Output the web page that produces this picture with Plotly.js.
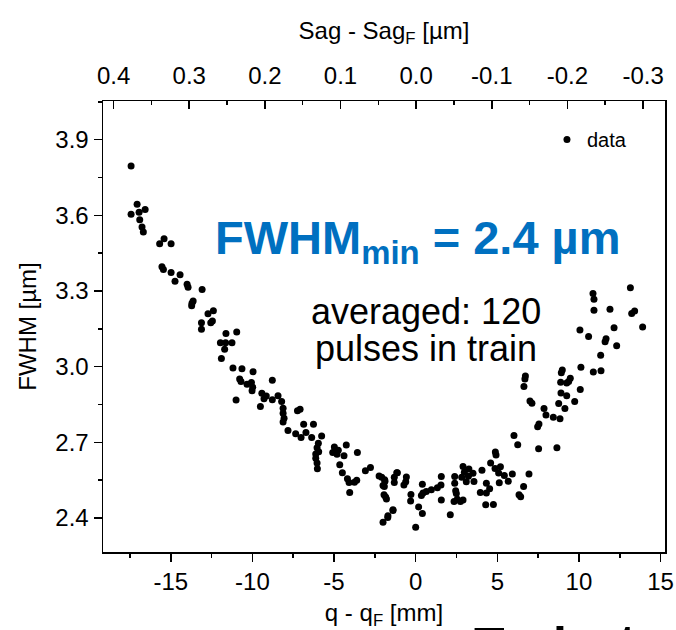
<!DOCTYPE html>
<html>
<head>
<meta charset="utf-8">
<script src="https://cdn.plot.ly/plotly-3.0.1.min.js"></script>
<style>html,body{margin:0;padding:0;background:#fff;}#chart{width:676px;height:630px;}</style>
</head>
<body>
<div id="chart"></div>
<script>
// q - q_F [mm]
const qValues = [
-17.43,-17.06,-17.43,-16.94,-16.57,-16.90,-16.76,-16.68,-15.68,-15.41,-14.98,-15.54,-15.45,-14.98,-14.43,-14.74,-14.00,-13.94,-13.08,-13.63,
-13.70,-13.72,-12.72,-12.39,-13.12,-12.55,-12.45,-13.12,-11.62,-10.96,-11.96,-11.64,-11.25,-11.70,-11.90,-11.19,-10.64,-9.96,-10.78,-10.70,
-10.33,-10.06,-9.98,-10.02,-8.78,-11.00,-9.42,-9.29,-9.15,-8.78,-8.43,-9.51,-8.21,-8.12,-8.12,-8.06,-8.12,-7.24,-7.08,-7.82,
-7.35,-7.02,-6.86,-6.26,-6.72,-6.37,-5.76,-5.96,-6.04,-5.94,-6.12,-6.12,-6.04,-6.02,-5.08,-4.98,-4.74,-4.82,-4.39,-4.25,
-3.57,-4.65,-4.49,-4.18,-4.08,-3.61,-3.75,-4.04,-3.08,-2.77,-2.24,-2.08,-1.88,-2.00,-1.94,-1.79,-1.31,-1.16,-2.00,-1.71,
-1.39,-0.57,-0.61,-0.72,-1.12,-1.31,-1.39,-1.70,-1.90,-1.92,-1.84,-0.29,-0.31,0.18,0.41,0.00,0.35,0.45,0.41,0.65,
0.96,1.33,1.55,1.57,1.57,2.12,2.39,2.39,2.45,2.49,2.55,2.35,2.90,2.74,2.82,2.98,2.90,3.10,3.23,3.26,
3.51,3.57,4.06,3.96,4.33,4.33,4.29,4.53,4.76,4.59,4.88,4.92,4.86,5.19,5.08,5.12,5.43,5.67,5.92,6.33,
6.43,6.61,6.94,6.02,6.25,6.63,6.69,6.72,7.00,7.12,7.47,7.55,7.53,7.86,7.98,8.43,8.65,8.76,8.84,8.88,
8.90,8.92,8.98,9.14,9.25,9.25,9.37,9.47,9.74,10.06,10.08,10.12,10.59,10.86,10.88,10.92,10.92,11.33,11.35,11.60,
11.66,11.90,12.15,12.31,13.15,13.23,13.41,13.90
];
// FWHM [um]
const fwhmValues = [
3.795,3.644,3.604,3.612,3.623,3.582,3.554,3.534,3.487,3.507,3.487,3.396,3.385,3.373,3.364,3.339,3.327,3.315,3.306,3.260,
3.251,3.241,3.210,3.222,3.174,3.174,3.181,3.148,3.132,3.137,3.095,3.095,3.095,3.069,3.032,2.995,2.992,2.980,2.951,2.941,
2.930,2.937,2.918,2.905,2.946,2.868,2.895,2.873,2.884,2.869,2.885,2.842,2.862,2.835,2.815,2.796,2.781,2.825,2.831,2.747,
2.734,2.719,2.772,2.772,2.739,2.719,2.725,2.697,2.679,2.663,2.654,2.637,2.618,2.595,2.660,2.682,2.669,2.653,2.647,2.690,
2.660,2.611,2.580,2.556,2.541,2.550,2.542,2.501,2.588,2.600,2.567,2.562,2.546,2.529,2.492,2.476,2.541,2.580,2.383,2.402,
2.430,2.563,2.544,2.531,2.580,2.562,2.433,2.409,2.552,2.525,2.483,2.493,2.468,2.444,2.418,2.364,2.489,2.499,2.534,2.505,
2.512,2.520,2.531,2.565,2.472,2.413,2.565,2.538,2.508,2.497,2.475,2.466,2.472,2.466,2.562,2.582,2.604,2.544,2.566,2.594,
2.578,2.545,2.590,2.501,2.538,2.499,2.453,2.516,2.454,2.618,2.662,2.650,2.596,2.603,2.579,2.540,2.569,2.546,2.575,2.492,
2.484,2.525,2.575,2.727,2.691,2.921,2.951,2.963,2.864,2.855,2.762,2.773,2.675,2.834,2.808,2.800,2.679,2.854,2.794,2.938,
2.896,2.976,2.987,2.834,2.935,2.885,2.941,2.954,2.862,3.145,2.910,2.998,3.120,3.290,2.979,3.267,3.224,3.045,2.984,3.099,
3.111,3.228,3.154,3.083,3.313,3.211,3.221,3.157
];
const bottomTicks = [-15, -10, -5, 0, 5, 10, 15];
const bottomTickText = ['-15', '-10', '-5', '0', '5', '10', '15'];
const leftTicks = [2.4, 2.7, 3.0, 3.3, 3.6, 3.9];
const leftTickText = ['2.4', '2.7', '3.0', '3.3', '3.6', '3.9'];
const topTicks = [0.4, 0.3, 0.2, 0.1, 0.0, -0.1, -0.2, -0.3];
const topTickText = ['0.4', '0.3', '0.2', '0.1', '0.0', '-0.1', '-0.2', '-0.3'];

const FONT = 'Liberation Sans, Arial, sans-serif';

const traces = [
  {
    type: 'scatter', mode: 'markers', name: 'data',
    x: qValues, y: fwhmValues,
    marker: {color: '#000', size: 7},
    xaxis: 'x', yaxis: 'y', showlegend: true, hoverinfo: 'skip'
  },
  {
    // carrier for the top (Sag) axis, draws nothing
    type: 'scatter', mode: 'markers', name: 'sag',
    x: topTicks, y: topTicks.map(() => null),
    xaxis: 'x2', yaxis: 'y', showlegend: false, hoverinfo: 'skip'
  }
];

const tickCommon = {tickwidth: 1.5, tickcolor: '#000', showline: true, linecolor: '#000', linewidth: 1.5,
  showgrid: false, zeroline: false, tickfont: {size: 24, family: FONT, color: '#000'}};

const layout = {
  width: 676, height: 630,
  margin: {l: 103, r: 11, t: 101, b: 78},
  paper_bgcolor: '#fff', plot_bgcolor: '#fff',
  font: {family: FONT, size: 24, color: '#000'},
  showlegend: true,
  legend: {x: 0.79, xanchor: 'left', y: 0.958, yanchor: 'top', font: {size: 20, family: FONT}, bgcolor: 'rgba(0,0,0,0)', borderwidth: 0},
  xaxis: Object.assign({}, tickCommon, {
    range: [-19.15, 15.27], tickmode: 'array', tickvals: bottomTicks, ticktext: bottomTickText, ticks: 'outside', ticklen: 8,
    minor: {dtick: 2.5, tick0: 0, ticks: 'outside', ticklen: 4, tickwidth: 1.5, tickcolor: '#000'},
    mirror: true,
    title: {text: 'q - q<sub>F</sub> [mm]', font: {size: 24}, standoff: 12}
  }),
  xaxis2: Object.assign({}, tickCommon, {
    overlaying: 'x', side: 'top', anchor: 'y',
    range: [0.414, -0.329], tickmode: 'array', tickvals: topTicks, ticktext: topTickText, ticks: 'inside', ticklen: 8,
    ticklabelstandoff: 6,
    minor: {dtick: 0.05, tick0: 0, ticks: 'inside', ticklen: 4, tickwidth: 1.5, tickcolor: '#000'},
    title: {text: 'Sag - Sag<sub>F</sub> [µm]', font: {size: 24}, standoff: 15}
  }),
  yaxis: Object.assign({}, tickCommon, {
    range: [2.2655, 4.053], tickmode: 'array', tickvals: leftTicks, ticktext: leftTickText, ticks: 'outside', ticklen: 8,
    minor: {dtick: 0.15, tick0: 2.4, ticks: 'outside', ticklen: 4, tickwidth: 1.5, tickcolor: '#000'},
    mirror: true,
    title: {text: 'FWHM [µm]', font: {size: 24}, standoff: 12}
  }),
  annotations: [
    {xref: 'paper', yref: 'paper', x: 0.195, y: 0.689, xanchor: 'left', yanchor: 'middle', showarrow: false,
     text: '<b>FWHM<sub>min</sub> = 2.4 µm</b>', font: {size: 47, color: '#0070C0', family: FONT}},
    {xref: 'paper', yref: 'paper', x: 0.5742, y: 0.5343, xanchor: 'center', yanchor: 'middle', showarrow: false,
     text: 'averaged: 120', font: {size: 36, color: '#000', family: FONT}},
    {xref: 'paper', yref: 'paper', x: 0.5742, y: 0.4502, xanchor: 'center', yanchor: 'middle', showarrow: false,
     text: 'pulses in train', font: {size: 36, color: '#000', family: FONT}},
    // tops of large text cut off at the bottom edge of the picture
    {xref: 'paper', yref: 'paper', x: (490 - 103) / 562, y: -0.142, xanchor: 'center', yanchor: 'top', showarrow: false,
     text: '<b>T</b>', font: {size: 50, color: '#000', family: FONT}},
    {xref: 'paper', yref: 'paper', x: (559.5 - 103) / 562, y: -0.140, xanchor: 'center', yanchor: 'top', showarrow: false,
     text: '<b>l</b>', font: {size: 50, color: '#000', family: FONT}},
    {xref: 'paper', yref: 'paper', x: (627 - 103) / 562, y: -0.136, xanchor: 'center', yanchor: 'top', showarrow: false,
     text: '<b>t</b>', font: {size: 50, color: '#000', family: FONT}}
  ]
};

Plotly.newPlot('chart', traces, layout, {displayModeBar: false, staticPlot: true});
</script>
</body>
</html>
